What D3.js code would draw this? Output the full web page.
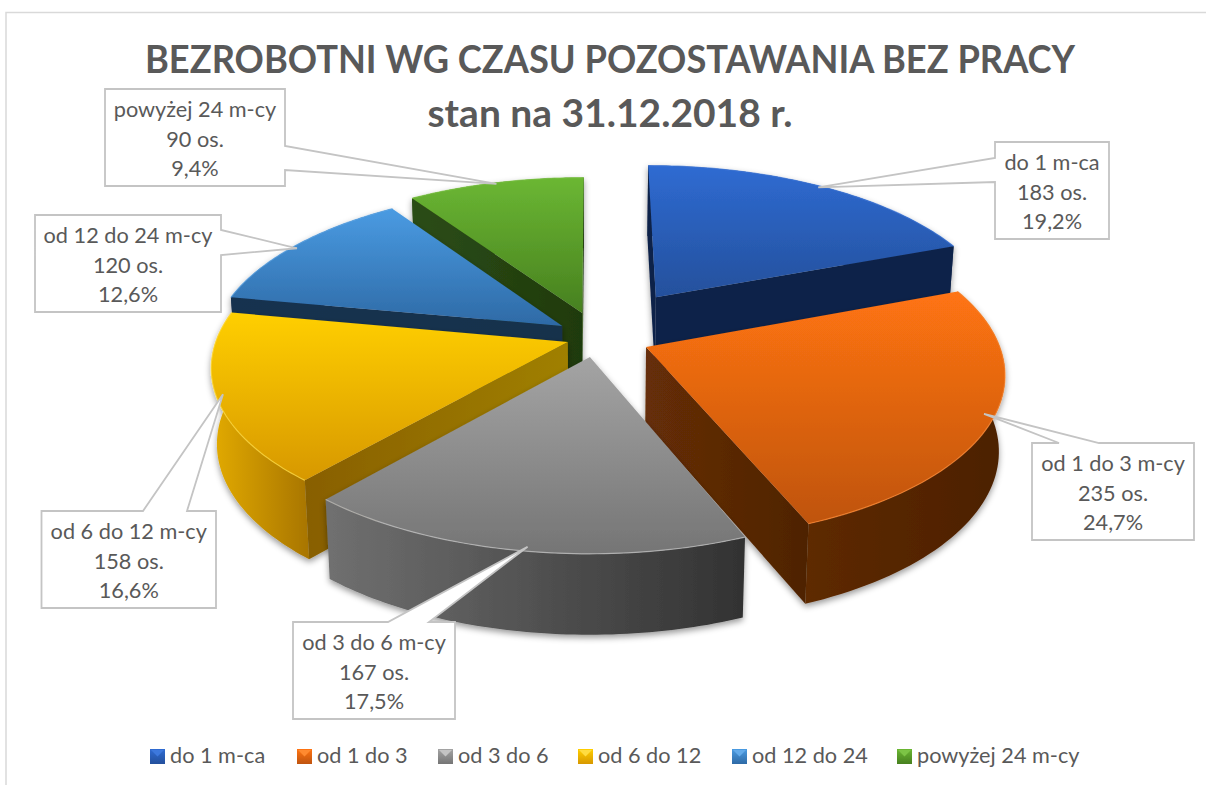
<!DOCTYPE html>
<html>
<head>
<meta charset="utf-8">
<script src="https://cdn.jsdelivr.net/npm/d3@7"></script>
<style>
  html, body { margin: 0; padding: 0; background: #fff; }
  svg { display: block; font-family: Lato, "Open Sans", sans-serif; }
</style>
</head>
<body>
<div id="chart"></div>
<script>
const titleLines = ["BEZROBOTNI WG CZASU POZOSTAWANIA BEZ PRACY", "stan na 31.12.2018 r."];
const categories = ["do 1 m-ca", "od 1 do 3", "od 3 do 6", "od 6 do 12", "od 12 do 24", "powyżej 24 m-cy"];
const calloutNames = ["do 1 m-ca", "od 1 do 3 m-cy", "od 3 do 6 m-cy", "od 6 do 12 m-cy", "od 12 do 24 m-cy", "powyżej 24 m-cy"];
const values = [183, 235, 167, 158, 120, 90];

const width = 1206;
const height = 785;

// look of the 3D pie
const offsetX = [64, 51.5, -4, -26, -32, -12];
const offsetY = [-85, 26, 47, 15, -20, -49];
const drawOrder = [5, 4, 0, 3, 1, 2];
const topColors = [["#2f6bd2", "#24509c"], ["#ff7412", "#bf540f"], ["#a4a4a4", "#757575"], ["#ffcf00", "#d79800"], ["#4a9be2", "#2e6aa6"], ["#6bb733", "#47801f"]];
const wallColors = [["#10244a", "#0f2246"], ["#5e2a06", "#4c2003"], ["#707070", "#323232"], ["#e3ab00", "#a87500"], ["#16304e", "#16304e"], ["#2a4a14", "#1f3a0e"]];
const faceColors = [["#10244a", "#10244a"], ["#662e07", "#4e2304"], ["#555555", "#444444"], ["#885f00", "#a08000"], ["#17314f", "#17304c"], ["#2c4d15", "#1f3a0e"]];
const bevelColors = ["#3d78dc", "#ff8a30", "#c4c4c4", "#ffdc40", "#62aaea", "#7cc445"];

// callouts: box [x0, y0, x1, y1], side the pointer leaves from, and where the pointer meets it
const calloutBoxes = [
  { box: [995, 142, 1109, 239], side: "left", base: [158, 182], nudge: [-3, 1] },
  { box: [1032, 443, 1194, 540], side: "top", base: [1059, 1099], nudge: [-10, -3] },
  { box: [293, 622, 455, 719], side: "top", base: [388, 429], nudge: [7, -4] },
  { box: [41.5, 511, 216, 608], side: "top", base: [143, 187], nudge: [6, -4] },
  { box: [35, 215, 221, 312], side: "right", base: [230, 255], nudge: [1, 3] },
  { box: [105, 89, 285, 186], side: "right", base: [146, 170], nudge: [1, 1] }
];
const legendX = [150, 297, 438, 578, 732, 897];
const titleWidths = [930, 365];

const cx = 594, cy = 335, radius = 350, tilt = 0.46, viewDist = 2400, depth = 75;

const svg = d3.select("#chart").append("svg")
  .attr("width", width)
  .attr("height", height);
const defs = svg.append("defs");

const shadow = defs.append("filter").attr("id", "shadow")
  .attr("x", "-10%").attr("y", "-10%").attr("width", "120%").attr("height", "125%");
shadow.append("feDropShadow")
  .attr("dx", 0).attr("dy", 3).attr("stdDeviation", 3)
  .attr("flood-color", "#000").attr("flood-opacity", 0.4);

function gradient(id, stops, vertical) {
  const g = defs.append("linearGradient").attr("id", id)
    .attr("x1", 0).attr("y1", 0)
    .attr("x2", vertical ? 0 : 1).attr("y2", vertical ? 1 : 0);
  g.append("stop").attr("offset", "0%").attr("stop-color", stops[0]);
  g.append("stop").attr("offset", "100%").attr("stop-color", stops[1]);
}
values.forEach((v, i) => {
  gradient("top" + i, topColors[i], true);
  gradient("wall" + i, wallColors[i], false);
  gradient("face" + i, faceColors[i], false);
});

// world x,y in the pie plane (y towards the viewer), z downwards
function project(x, y, z) {
  const p = 1 / (1 - y / viewDist);
  return [
    cx + x * p * (1 - z * 0.0002),
    cy + tilt * y * p + z * (1 + (p - 1) * 0.4)
  ];
}

const pie = d3.pie().sort(null).value(d => d);
const line = d3.line();
const total = d3.sum(values);
const formatPct = v => (v / total * 100).toFixed(1).replace(".", ",") + "%";

const slices = pie(values).map((s, i) => {
  const mid = (s.startAngle + s.endAngle) / 2;
  const ox = offsetX[i];
  const oy = offsetY[i];
  const onRim = (a, z) => project(ox + radius * Math.sin(a), oy - radius * Math.cos(a), z);
  const angles = d3.range(0, 61).map(t => s.startAngle + (s.endAngle - s.startAngle) * t / 60);
  return { i, mid, ox, oy, onRim, angles };
});

drawOrder.forEach(i => {
  const s = slices[i];
  const g = svg.append("g").attr("filter", "url(#shadow)");

  const topArc = s.angles.map(a => s.onRim(a, 0));
  const bottomArc = s.angles.map(a => s.onRim(a, depth));
  const apexTop = project(s.ox, s.oy, 0);
  const apexBottom = project(s.ox, s.oy, depth);

  g.append("path")
    .attr("d", line(topArc.concat(bottomArc.slice().reverse())) + "Z")
    .attr("fill", `url(#wall${i})`);

  // cut faces, only those turned towards the viewer
  const faces = [
    [apexTop, topArc[0], bottomArc[0], apexBottom],
    [topArc[60], apexTop, apexBottom, bottomArc[60]]
  ];
  faces.forEach(f => {
    if (d3.polygonArea(f) > 0) {
      g.append("path").attr("d", line(f) + "Z").attr("fill", `url(#face${i})`);
    }
  });

  g.append("path")
    .attr("d", line([apexTop].concat(topArc)) + "Z")
    .attr("fill", `url(#top${i})`);
  g.append("path")
    .attr("d", line(topArc))
    .attr("fill", "none")
    .attr("stroke", bevelColors[i])
    .attr("stroke-width", 1.2)
    .attr("stroke-opacity", 0.7);
});

// frame
svg.append("path")
  .attr("d", `M6,${height}V12.5H${width}`)
  .attr("fill", "none")
  .attr("stroke", "#d9d9d9")
  .attr("stroke-width", 1.5);

// title
svg.append("g").selectAll("text")
  .data(titleLines)
  .join("text")
  .attr("x", 610)
  .attr("y", (d, i) => 73 + i * 54)
  .attr("text-anchor", "middle")
  .attr("font-size", 39)
  .attr("font-weight", 700)
  .attr("fill", "#595959")
  .attr("textLength", (d, i) => titleWidths[i])
  .attr("lengthAdjust", "spacingAndGlyphs")
  .text(d => d);

// callouts
function calloutPath(c, tip) {
  const [x0, y0, x1, y1] = c.box;
  const [a, b] = c.base;
  if (c.side === "left") {
    return line([[x0, y0], [x1, y0], [x1, y1], [x0, y1], [x0, b], tip, [x0, a]]) + "Z";
  }
  if (c.side === "right") {
    return line([[x0, y0], [x1, y0], [x1, a], tip, [x1, b], [x1, y1], [x0, y1]]) + "Z";
  }
  return line([[x0, y0], [a, y0], tip, [b, y0], [x1, y0], [x1, y1], [x0, y1]]) + "Z";
}

calloutBoxes.forEach((c, i) => {
  const s = slices[i];
  const rim = s.onRim(s.mid, 0);
  const tip = [rim[0] + c.nudge[0], rim[1] + c.nudge[1]];
  const g = svg.append("g");
  g.append("path")
    .attr("d", calloutPath(c, tip))
    .attr("fill", "#fff")
    .attr("stroke", "#c4c4c4")
    .attr("stroke-width", 1.8);
  g.selectAll("text")
    .data([calloutNames[i], values[i] + " os.", formatPct(values[i])])
    .join("text")
    .attr("x", (c.box[0] + c.box[2]) / 2)
    .attr("y", (d, j) => c.box[1] + 28 + j * 29.5)
    .attr("text-anchor", "middle")
    .attr("font-size", 21.7)
    .attr("fill", "#595959")
    .text(d => d);
});

// legend
const legend = svg.append("g").selectAll("g")
  .data(categories)
  .join("g")
  .attr("transform", (d, i) => `translate(${legendX[i]},749)`);
legend.append("rect")
  .attr("width", 15).attr("height", 15)
  .attr("fill", (d, i) => `url(#top${i})`);
legend.append("path")
  .attr("d", "M1,1H14L7.5,7.5Z")
  .attr("fill", (d, i) => bevelColors[i]);
legend.append("text")
  .attr("x", 20)
  .attr("y", 14)
  .attr("font-size", 21.7)
  .attr("fill", "#595959")
  .text(d => d);
</script>
</body>
</html>
